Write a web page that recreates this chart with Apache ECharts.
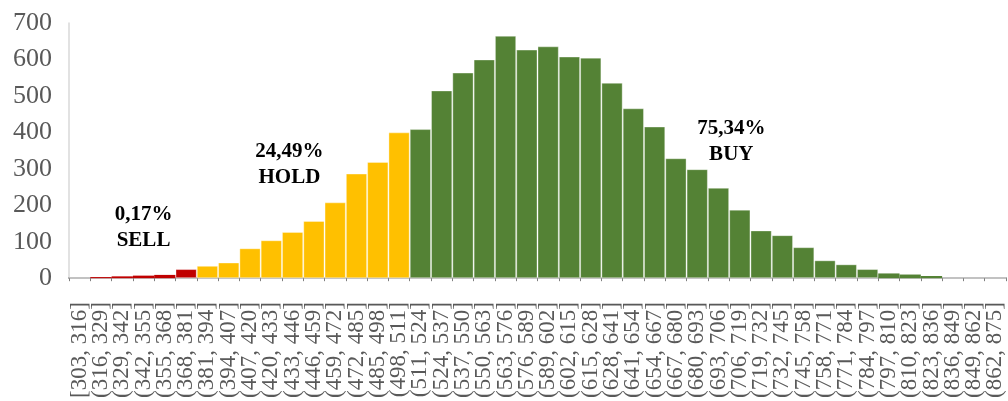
<!DOCTYPE html>
<html><head><meta charset="utf-8">
<script src="https://cdn.jsdelivr.net/npm/echarts@6/dist/echarts.min.js"></script>
<style>html,body{margin:0;padding:0;background:#fff}#c{width:1008px;height:401px}</style>
</head><body><div id="c"></div>
<script>
const categories = [
  "[303, 316]","(316, 329]","(329, 342]","(342, 355]","(355, 368]","(368, 381]",
  "(381, 394]","(394, 407]","(407, 420]","(420, 433]","(433, 446]","(446, 459]",
  "(459, 472]","(472, 485]","(485, 498]","(498, 511]","(511, 524]","(524, 537]",
  "(537, 550]","(550, 563]","(563, 576]","(576, 589]","(589, 602]","(602, 615]",
  "(615, 628]","(628, 641]","(641, 654]","(654, 667]","(667, 680]","(680, 693]",
  "(693, 706]","(706, 719]","(719, 732]","(732, 745]","(745, 758]","(758, 771]",
  "(771, 784]","(784, 797]","(797, 810]","(810, 823]","(823, 836]","(836, 849]",
  "(849, 862]","(862, 875]"
];
const counts = [
  0, 3, 5, 7, 9, 25,
  34, 43, 82, 104, 127, 157,
  208, 287, 319, 400, 409, 515,
  564, 600, 665, 627, 636, 608,
  605, 536, 466, 416, 329, 299,
  248, 188, 131, 118, 85, 49,
  38, 25, 13, 10, 6, 0,
  0, 0
];
const yTicks = [0, 700, 100]; // min, max, interval
const sellUpTo = 381, holdUpTo = 511;
const zoneColors = { SELL: "#C00000", HOLD: "#FFC000", BUY: "#548235" };
const annotations = [
  { text: "0,17%\nSELL", cat: 3.5, value: 138 },
  { text: "24,49%\nHOLD", cat: 10.35, value: 312 },
  { text: "75,34%\nBUY", cat: 31.1, value: 375 }
];

function zoneOf(label) {
  const up = parseFloat(label.split(",")[1]);
  if (up <= sellUpTo) return "SELL";
  if (up <= holdUpTo) return "HOLD";
  return "BUY";
}

const chart = echarts.init(document.getElementById("c"), null, { renderer: "canvas" });
const serif = "'Liberation Serif', 'DejaVu Serif', serif";
chart.setOption({
  animation: false,
  backgroundColor: "#fff",
  grid: { left: 69, right: 2, top: 23, bottom: 122.7, containLabel: false },
  xAxis: [
    {
      type: "category", data: categories, position: "bottom", offset: 21,
      axisLine: { show: true, lineStyle: { color: "#7f7f7f", width: 2 } },
      axisTick: { show: true, length: 3, lineStyle: { color: "#7f7f7f" } },
      axisLabel: { interval: 0, rotate: 90, margin: 3, color: "#595959", fontSize: 23, fontFamily: serif }
    },
    {
      type: "category", data: categories, position: "bottom",
      axisLine: { show: true, lineStyle: { color: "#d9d9d9", width: 1.5 } },
      axisTick: { show: false }, axisLabel: { show: false }
    }
  ],
  yAxis: {
    type: "value", min: yTicks[0], max: yTicks[1], interval: yTicks[2],
    axisLine: { show: true, lineStyle: { color: "#d9d9d9", width: 1.5 } },
    axisTick: { show: false },
    splitLine: { show: false },
    axisLabel: { color: "#595959", fontSize: 26, fontFamily: serif, margin: 17 }
  },
  series: [{
    type: "bar", xAxisIndex: 0,
    data: counts.map((v, i) => ({
      value: v,
      itemStyle: {
        color: zoneColors[zoneOf(categories[i])],
        borderColor: "rgba(255,255,255,0.35)",
        borderWidth: v > 15 ? 1 : 0
      }
    })),
    barCategoryGap: "0%"
  }]
});

const bw = chart.convertToPixel({ xAxisIndex: 0 }, 1) - chart.convertToPixel({ xAxisIndex: 0 }, 0);
const graphics = annotations.map(a => {
  const base = Math.floor(a.cat);
  const x = chart.convertToPixel({ xAxisIndex: 0 }, base) + (a.cat - base - 0.5) * bw;
  const y = chart.convertToPixel({ yAxisIndex: 0 }, a.value);
  return {
    type: "text", x: x, y: y,
    style: {
      text: a.text, fill: "#000", font: "bold 21px " + serif,
      align: "center", verticalAlign: "middle", lineHeight: 26
    }
  };
});
chart.setOption({ graphic: graphics });
</script>
</body></html>
